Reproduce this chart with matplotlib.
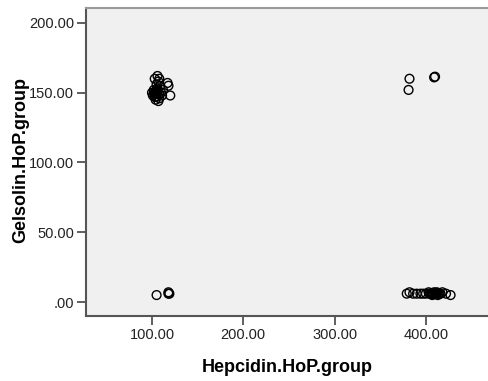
import matplotlib
matplotlib.use("Agg")
from matplotlib import pyplot as plt

plt.rcParams['font.family'] = ['Liberation Sans', 'DejaVu Sans']

# Hepcidin / Gelsolin group values, one pair per case
hep_high_gel = [100, 101, 102, 103, 104, 105, 106, 104, 107, 108, 106, 105,
                107, 108, 106, 109, 110, 111, 112, 117, 118, 120, 103,
                102, 104, 106, 108, 105, 103,
                381, 382, 409, 410]
gel_high_gel = [150, 148, 152, 149, 151, 147, 150, 145, 144, 146, 153, 156,
                158, 160, 162, 155, 150, 148, 152, 157, 155, 148, 160,
                150, 149, 151, 149, 152, 147,
                152, 160, 161, 161.5]

hep_low_gel = [105, 118, 118, 119,
               379, 382, 386, 390, 394, 397, 400, 403, 405, 406, 407, 408,
               409, 410, 411, 412, 413, 414, 416, 418, 422, 427,
               404, 407, 410, 412, 415]
gel_low_gel = [5, 6, 7, 6,
               6, 7, 6, 6, 6, 6, 6, 7, 6, 6, 5, 6,
               7, 6, 6, 7, 5, 6, 6, 7, 6, 5,
               6, 6, 6, 6, 6]

x_ticks = [100, 200, 300, 400]
y_ticks = [0, 50, 100, 150, 200]


def spss_fmt(v):
    s = "%.2f" % v
    return s[1:] if s.startswith("0") else s


fig = plt.figure(figsize=(4.88, 3.81), dpi=100)
ax = fig.add_axes([86 / 488, 1 - 316 / 381, 1 - 86 / 488, 308 / 381])
ax.set_facecolor("#f0f0f0")

hep = hep_high_gel + hep_low_gel
gel = gel_high_gel + gel_low_gel
ax.scatter(hep, gel, s=40, facecolors="none", edgecolors="black", linewidths=1.0)

ax.set_xlim(27.7, 468)
ax.set_ylim(-10, 210.7)
ax.set_xticks(x_ticks)
ax.set_xticklabels([spss_fmt(v) for v in x_ticks])
ax.set_yticks(y_ticks)
ax.set_yticklabels([spss_fmt(v) for v in y_ticks])
ax.tick_params(axis="both", direction="out", length=6.5, width=1.2,
               color="#444444", labelsize=10.5, labelcolor="#222222", pad=2)

for side in ("left", "bottom"):
    ax.spines[side].set_color("#555555")
    ax.spines[side].set_linewidth(1.5)
ax.spines["top"].set_color("#9a9a9a")
ax.spines["top"].set_linewidth(1.5)
ax.spines["right"].set_visible(False)

fig.text(287 / 488, 1 - 368 / 381, "Hepcidin.HoP.group", fontsize=13,
         fontweight="bold", ha="center", va="center")
fig.text(21 / 488, 1 - 160 / 381, "Gelsolin.HoP.group", fontsize=13,
         fontweight="bold", ha="center", va="center", rotation=90)

fig.savefig("out.png", dpi=100)
